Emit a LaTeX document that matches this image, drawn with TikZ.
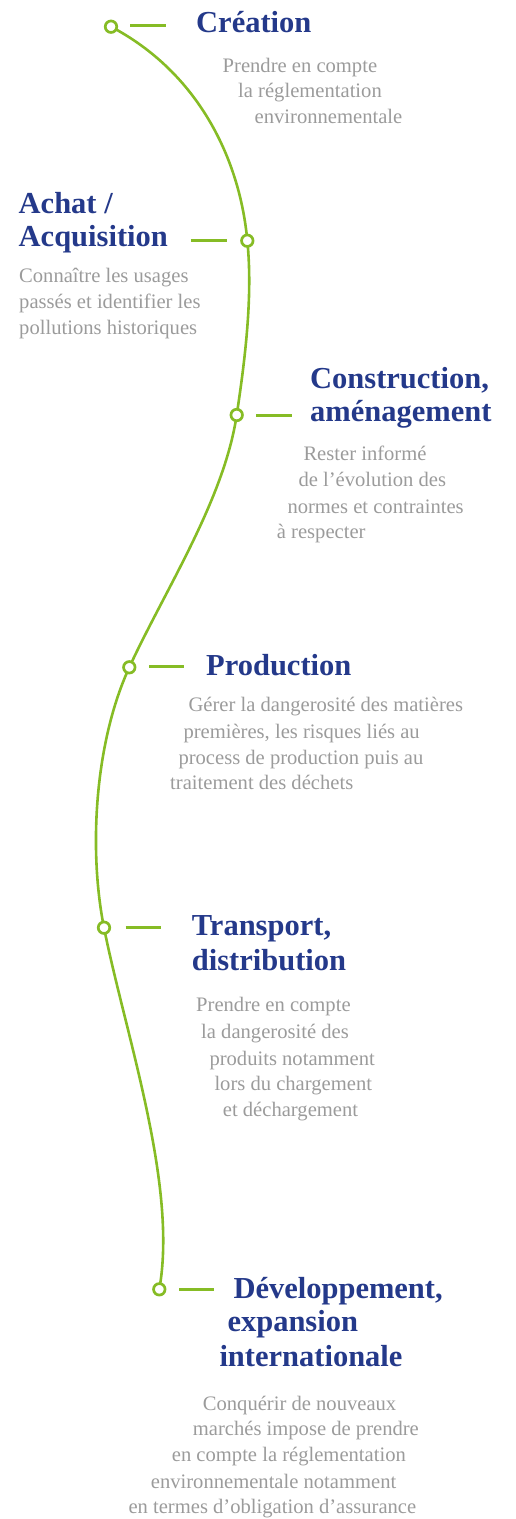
\documentclass[tikz,border=0pt]{standalone}
\usepackage{fontspec}
\setmainfont{Liberation Serif}
\definecolor{titleblue}{HTML}{24398A}
\definecolor{bodygray}{HTML}{9B9B9B}
\definecolor{lime}{HTML}{86BC25}
\tikzset{
  titletext/.style={anchor=base west, inner sep=0pt, text=titleblue, font=\fontsize{30.5}{35}\selectfont\bfseries},
  bodytext/.style={anchor=base west, inner sep=0pt, text=bodygray, font=\fontsize{20.6}{26}\selectfont},
  dot/.style={circle, draw=lime, line width=2.7pt, fill=white, minimum size=11.5pt, inner sep=0pt},
  curveline/.style={draw=lime, line width=2.6pt},
  dashline/.style={draw=lime, line width=3pt}
}
\begin{document}
\begin{tikzpicture}[x=1pt,y=-1pt]
\useasboundingbox (0,0) rectangle (515,1519);
% milestone points
\coordinate (p1) at (111,26.7);
\coordinate (p2) at (247.3,240.7);
\coordinate (p3) at (236.7,415);
\coordinate (p4) at (129.3,667.3);
\coordinate (p5) at (104,927.7);
\coordinate (p6) at (159.3,1289.3);
% the path
\draw[curveline] (p1) .. controls (199,73) and (240,160) .. (p2)
  .. controls (253,296) and (245,360) .. (p3)
  .. controls (224,500) and (165,590) .. (p4)
  .. controls (94.8,742.3) and (88.4,849.3) .. (p5)
  .. controls (124.9,1032.7) and (178,1185) .. (p6);
% circles
\node[dot] (c1) at (p1) {};
\node[dot] (c2) at (p2) {};
\node[dot] (c3) at (p3) {};
\node[dot] (c4) at (p4) {};
\node[dot] (c5) at (p5) {};
\node[dot] (c6) at (p6) {};
% dashes
\coordinate (d1a) at (130,25.7); \coordinate (d1b) at (166,25.7);
\coordinate (d2a) at (190.7,240.5); \coordinate (d2b) at (226.7,240.5);
\coordinate (d3a) at (256,415); \coordinate (d3b) at (291.7,415);
\coordinate (d4a) at (149.3,666.7); \coordinate (d4b) at (184.3,666.7);
\coordinate (d5a) at (125.7,927.7); \coordinate (d5b) at (161,927.7);
\coordinate (d6a) at (179.3,1289.3); \coordinate (d6b) at (214.3,1289.3);
\draw[dashline] (d1a) -- (d1b);
\draw[dashline] (d2a) -- (d2b);
\draw[dashline] (d3a) -- (d3b);
\draw[dashline] (d4a) -- (d4b);
\draw[dashline] (d5a) -- (d5b);
\draw[dashline] (d6a) -- (d6b);
% 1 Création
\node[titletext] (t1a) at (196,32.3) {Création};
\node[bodytext] (b1a) at (222.5,72) {Prendre en compte};
\node[bodytext] (b1b) at (238,97.5) {la réglementation};
\node[bodytext] (b1c) at (254.5,123) {environnementale};
% 2 Achat
\node[titletext] (t2a) at (18.5,213.3) {Achat /};
\node[titletext] (t2b) at (18.5,246.7) {Acquisition};
\node[bodytext] (b2a) at (19,282) {Connaître les usages};
\node[bodytext] (b2b) at (19,308) {passés et identifier les};
\node[bodytext] (b2c) at (19,334) {pollutions historiques};
% 3 Construction
\node[titletext] (t3a) at (310,388.3) {Construction,};
\node[titletext] (t3b) at (310,421.7) {aménagement};
\node[bodytext] (b3a) at (303.3,460) {Rester informé};
\node[bodytext] (b3b) at (298.3,486.7) {de l’évolution des};
\node[bodytext] (b3c) at (287.3,513.3) {normes et contraintes};
\node[bodytext] (b3d) at (276.7,538.5) {à respecter};
% 4 Production
\node[titletext] (t4a) at (206,675) {Production};
\node[bodytext] (b4a) at (188.3,711.7) {Gérer la dangerosité des matières};
\node[bodytext] (b4b) at (183.3,738.3) {premières, les risques liés au};
\node[bodytext] (b4c) at (178.3,764) {process de production puis au};
\node[bodytext] (b4d) at (170,789.3) {traitement des déchets};
% 5 Transport
\node[titletext] (t5a) at (191.7,935) {Transport,};
\node[titletext] (t5b) at (191.7,970) {distribution};
\node[bodytext] (b5a) at (196,1011.7) {Prendre en compte};
\node[bodytext] (b5b) at (201,1038.3) {la dangerosité des};
\node[bodytext] (b5c) at (209.3,1065) {produits notamment};
\node[bodytext] (b5d) at (214.3,1090.7) {lors du chargement};
\node[bodytext] (b5e) at (222.7,1116.7) {et déchargement};
% 6 Développement
\node[titletext] (t6a) at (233.3,1298.3) {Développement,};
\node[titletext] (t6b) at (227.3,1331.7) {expansion};
\node[titletext] (t6c) at (219.3,1366.7) {internationale};
\node[bodytext] (b6a) at (202.7,1410) {Conquérir de nouveaux};
\node[bodytext] (b6b) at (192.7,1435.5) {marchés impose de prendre};
\node[bodytext] (b6c) at (171.7,1461.7) {en compte la réglementation};
\node[bodytext] (b6d) at (150.7,1488) {environnementale notamment};
\node[bodytext] (b6e) at (128.3,1513.3) {en termes d’obligation d’assurance};
\end{tikzpicture}
\end{document}
